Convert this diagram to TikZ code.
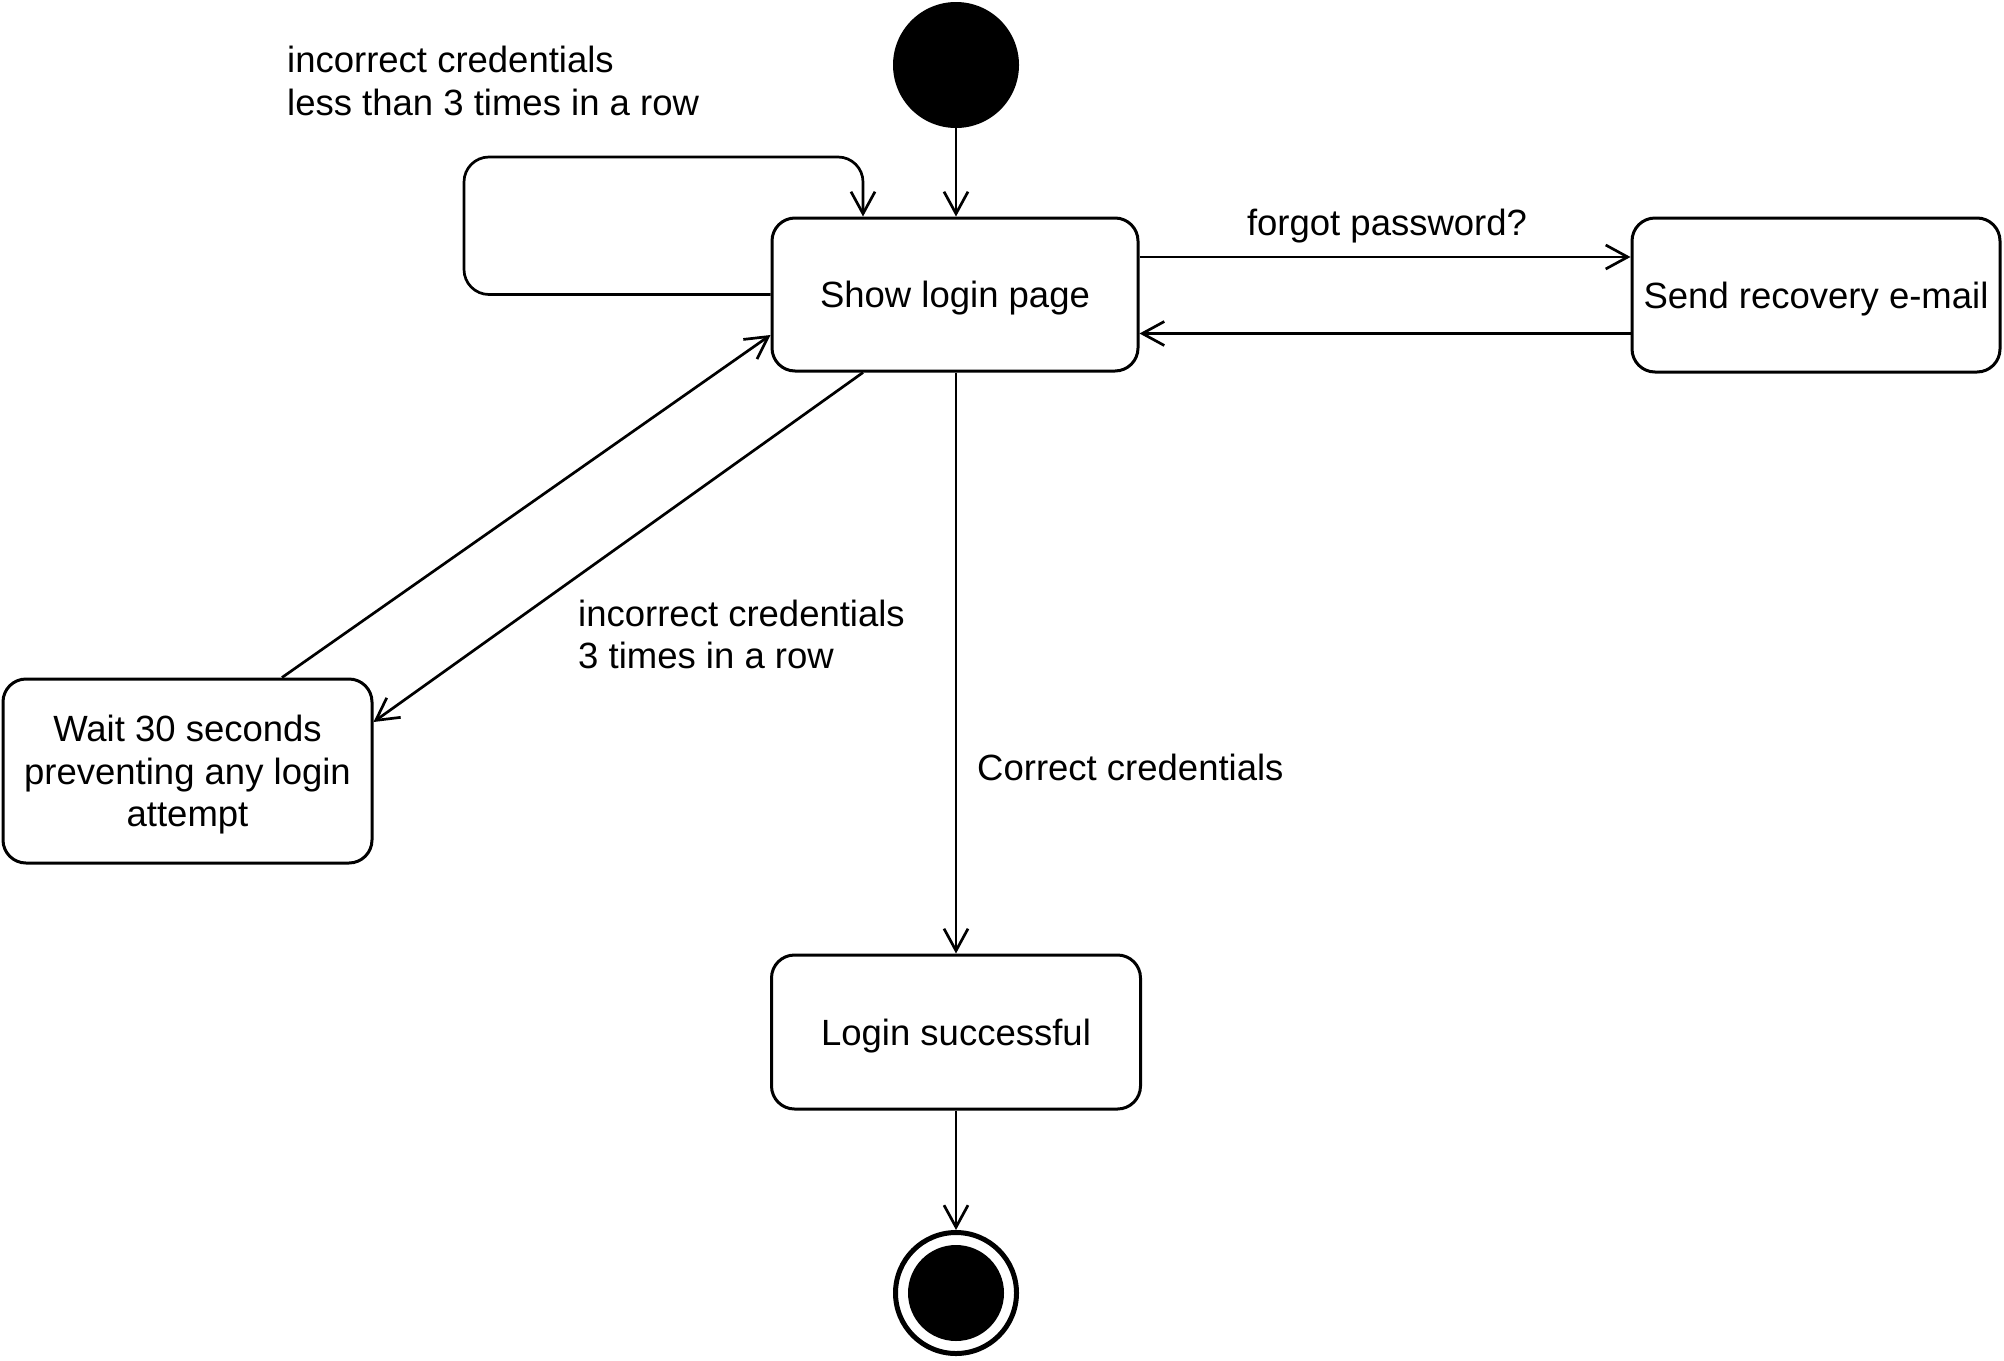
\documentclass[tikz,border=0pt]{standalone}
\usepackage{fontspec}
\setmainfont{Liberation Sans}
\usetikzlibrary{arrows.meta}
\begin{document}
\begin{tikzpicture}[x=1pt,y=-1pt,
  font=\fontsize{36.5}{42.5}\selectfont,
  statebox/.style={draw, line width=3pt, rounded corners=23pt, inner sep=0pt, align=center, text depth=0pt},
  oneline/.style={text height=26pt},
  conn/.style={line width=2.7pt, -{Straight Barb[length=22pt,width=24pt]}},
  lbl/.style={inner sep=0pt}]
\useasboundingbox (0,0) rectangle (2004,1360);
\node[circle, fill, minimum size=126pt, inner sep=0pt] (init) at (956,65) {};
\node[statebox, oneline, minimum width=366pt, minimum height=153pt] (show) at (955,294.5) {Show login page};
\node[statebox, oneline, minimum width=368pt, minimum height=154pt] (rec) at (1816,295) {Send recovery e-mail};
\node[statebox, minimum width=369pt, minimum height=184pt] (wait) at (187.5,771) {Wait 30 seconds\\preventing any login\\attempt};
\node[statebox, oneline, minimum width=369pt, minimum height=154pt] (succ) at (956,1032) {Login successful};
\node[circle, draw, line width=5pt, minimum size=121pt, inner sep=0pt] (final) at (956,1293) {};
\node[circle, fill, minimum size=96pt, inner sep=0pt] (finalin) at (final) {};

\draw[conn] (init) -- (show.north -| init);
\draw[conn, rounded corners=25pt] (show.west) -| (464,157) -| ([xshift=-92pt]show.north);
\draw[conn] ([yshift=37.5pt]show.east) -- ([yshift=37.5pt]show.east -| rec.west);
\draw[conn] ([yshift=-38.5pt]rec.west) -- ([yshift=-38.5pt]rec.west -| show.east);
\draw[conn] ([xshift=94.5pt]wait.north) -- ([yshift=-40.5pt]show.west);
\draw[conn] ([xshift=-92pt]show.south) -- ([yshift=49pt]wait.east);
\draw[conn] (show.south -| succ.north) -- (succ.north);
\draw[conn] (succ.south) -- (final.north);

\node[lbl, anchor=west, align=left] (l1) at (287,81) {incorrect credentials\\less than 3 times in a row};
\node[lbl, anchor=west, align=left] (l2) at (578,634.5) {incorrect credentials\\3 times in a row};
\node[lbl, anchor=base] (l3) at (1387,235) {forgot password?};
\node[lbl, anchor=base west] (l4) at (977,780) {Correct credentials};
\end{tikzpicture}
\end{document}
